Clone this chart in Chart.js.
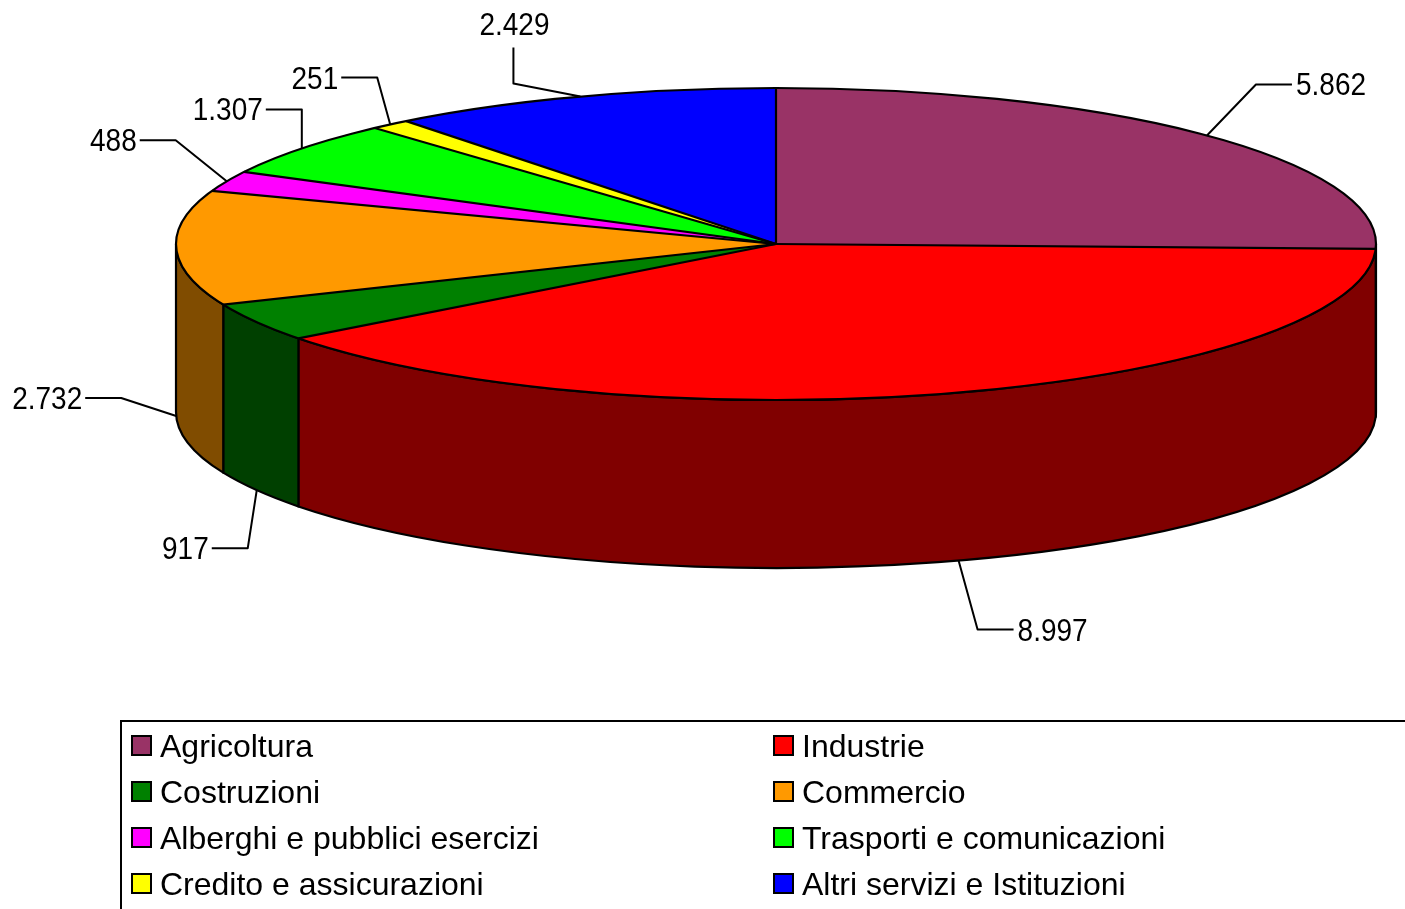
<!DOCTYPE html>
<html>
<head>
<meta charset="utf-8">
<script src="https://cdn.jsdelivr.net/npm/chart.js@4.4.1/dist/chart.umd.min.js"></script>
<style>
html,body{margin:0;padding:0;background:#fff;}
#c{display:block;}
</style>
</head>
<body>
<canvas id="c" width="1405" height="909"></canvas>
<script>
// ---- data ----
const categories = ["Agricoltura","Industrie","Costruzioni","Commercio","Alberghi e pubblici esercizi","Trasporti e comunicazioni","Credito e assicurazioni","Altri servizi e Istituzioni"];
const values = [5862, 8997, 917, 2732, 488, 1307, 251, 2429];
const topColors = ["#993366","#FF0000","#008000","#FF9900","#FF00FF","#00FF00","#FFFF00","#0000FF"];
const sideColors = ["#4D1A33","#800000","#004000","#804C00","#800080","#008000","#808000","#000080"];

// ---- layout (not data) ----
const CX = 776, CY = 244, RX = 600, RY = 156, DEPTH = 168;
// leader: [elbow dx, elbow dy, leg direction]
const leaders = [[49,-51,'r'],[19,69,'r'],[-9,58,'l'],[-55,-18,'l'],[-51,-41,'l'],[0,-39,'l'],[-13,-47,'l'],[-67,-13,'u']];
const LEG = 36;

function fmt(v){ return String(v).replace(/\B(?=(\d{3})+(?!\d))/g, '.'); }

function stretchedText(ctx, txt, x, y){
  ctx.save();
  ctx.translate(x, y);
  ctx.scale(1, 1.1);
  ctx.fillText(txt, 0, 0);
  ctx.restore();
}

const pie3d = {
  id: 'pie3d',
  beforeDatasetsDraw(chart){
    const ctx = chart.ctx;
    const arcs = chart.getDatasetMeta(0).data;
    const a0 = arcs[0];
    ctx.save();
    ctx.lineWidth = 2.2;
    ctx.strokeStyle = '#000';
    ctx.lineJoin = 'round';
    arcs.forEach((arc, i) => {
      const s = Math.max(arc.startAngle, 0), e = Math.min(arc.endAngle, Math.PI);
      if (e <= s) return;
      ctx.beginPath();
      ctx.ellipse(CX, CY, RX, RY, 0, s, e, false);
      ctx.lineTo(CX + RX*Math.cos(e), CY + RY*Math.sin(e) + DEPTH);
      ctx.ellipse(CX, CY + DEPTH, RX, RY, 0, e, s, true);
      ctx.closePath();
      ctx.fillStyle = sideColors[i];
      ctx.fill();
      ctx.stroke();
    });
    ctx.restore();
    const R = a0.outerRadius;
    ctx.save();
    ctx.translate(CX, CY);
    ctx.scale(RX / R, RY / R);
    ctx.translate(-a0.x, -a0.y);
  },
  afterDatasetsDraw(chart){
    const ctx = chart.ctx;
    ctx.restore();
    const arcs = chart.getDatasetMeta(0).data;
    ctx.save();
    ctx.lineWidth = 2.2;
    ctx.strokeStyle = '#000';
    ctx.lineJoin = 'round';
    ctx.beginPath();
    ctx.ellipse(CX, CY, RX, RY, 0, 0, Math.PI*2);
    ctx.stroke();
    arcs.forEach(arc => {
      const a = arc.startAngle;
      ctx.beginPath();
      ctx.moveTo(CX, CY);
      ctx.lineTo(CX + RX*Math.cos(a), CY + RY*Math.sin(a));
      ctx.stroke();
    });
    ctx.font = '28px "Liberation Sans", Arial, sans-serif';
    ctx.fillStyle = '#000';
    ctx.lineWidth = 2;
    ctx.textBaseline = 'alphabetic';
    arcs.forEach((arc, i) => {
      const m = (arc.startAngle + arc.endAngle) / 2;
      const sm = Math.sin(m);
      const ax = CX + RX*Math.cos(m);
      const ay = CY + RY*sm + (sm > 0 ? DEPTH : 0);
      const [dx, dy, dir] = leaders[i];
      const ex = ax + dx, ey = ay + dy;
      let fx = ex, fy = ey;
      if (dir === 'r') fx = ex + LEG;
      else if (dir === 'l') fx = ex - LEG;
      else fy = ey - LEG;
      ctx.beginPath();
      ctx.moveTo(ax, ay);
      ctx.lineTo(ex, ey);
      ctx.lineTo(fx, fy);
      ctx.stroke();
      const txt = fmt(values[i]);
      if (dir === 'r') { ctx.textAlign = 'left'; stretchedText(ctx, txt, fx + 4, fy + 11); }
      else if (dir === 'l') { ctx.textAlign = 'right'; stretchedText(ctx, txt, fx - 3, fy + 11); }
      else { ctx.textAlign = 'center'; stretchedText(ctx, txt, fx + 1, fy - 13); }
    });
    ctx.restore();
  },
  afterDraw(chart){
    const ctx = chart.ctx;
    ctx.save();
    ctx.lineWidth = 2;
    ctx.strokeStyle = '#000';
    ctx.strokeRect(121, 721, 1400, 300);
    ctx.font = '32px "Liberation Sans", Arial, sans-serif';
    ctx.textAlign = 'left';
    ctx.textBaseline = 'alphabetic';
    chart.data.labels.forEach((lab, i) => {
      const col = i % 2, row = Math.floor(i / 2);
      const bx = col ? 774 : 132;
      const base = 757 + 46*row;
      ctx.fillStyle = chart.data.datasets[0].backgroundColor[i];
      ctx.fillRect(bx, base - 21, 19, 19);
      ctx.strokeRect(bx, base - 21, 19, 19);
      ctx.fillStyle = '#000';
      ctx.fillText(lab, bx + 28, base);
    });
    ctx.restore();
  }
};

new Chart(document.getElementById('c'), {
  type: 'pie',
  data: {
    labels: categories,
    datasets: [{
      data: values,
      backgroundColor: topColors,
      borderWidth: 0,
      clip: false
    }]
  },
  options: {
    responsive: false,
    animation: false,
    events: [],
    plugins: { legend: { display: false }, tooltip: { enabled: false } }
  },
  plugins: [pie3d]
});
</script>
</body>
</html>
